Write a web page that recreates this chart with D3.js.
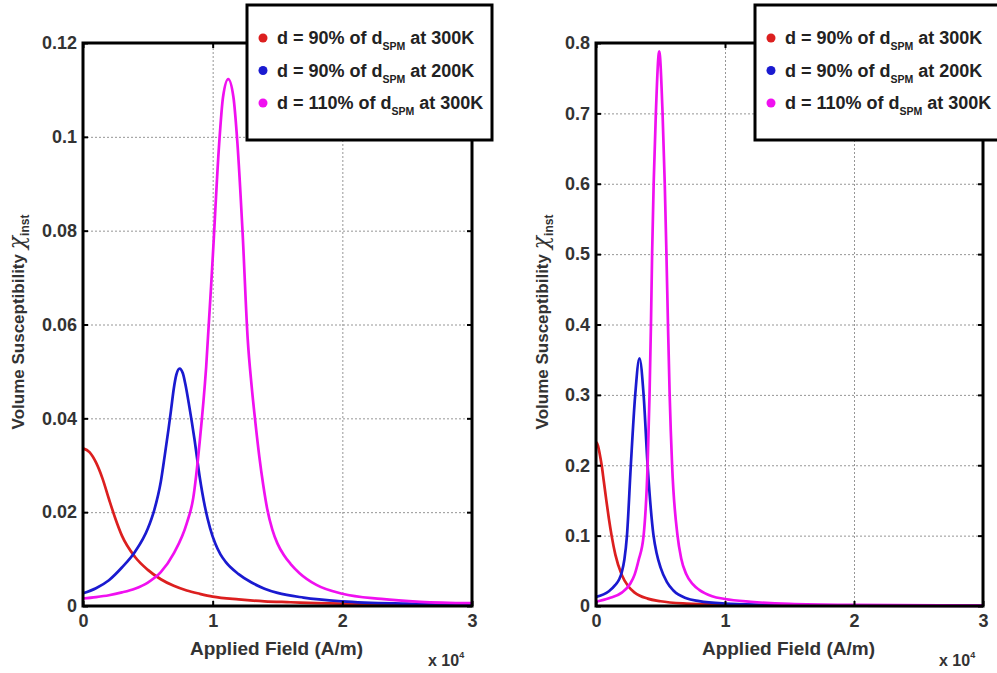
<!DOCTYPE html>
<html>
<head>
<meta charset="utf-8">
<script src="https://cdn.jsdelivr.net/npm/d3@7"></script>
<style>
  body { margin: 0; background: #fff; }
  svg { display: block; font-family: "Liberation Sans", Arial, sans-serif; }
  .tick text { font-weight: bold; fill: #333; font-family: "Liberation Sans", Arial, sans-serif; }
</style>
</head>
<body>
<svg id="chart" width="997" height="673"></svg>
<script>
// x en unités de 1e4 A/m
const xTicks = [0, 1, 2, 3];
const leftYTicks = [0, 0.02, 0.04, 0.06, 0.08, 0.1, 0.12];
const rightYTicks = [0, 0.1, 0.2, 0.3, 0.4, 0.5, 0.6, 0.7, 0.8];
const legendLabels = [
  { pre: "d = 90% of d", post: " at 300K" },
  { pre: "d = 90% of d", post: " at 200K" },
  { pre: "d = 110% of d", post: " at 300K" }
];
const seriesColors = ["#dc1f1f", "#1a1ad0", "#f010f0"];

// Panneau gauche
const leftRed = [[0,0.0336],[0.05,0.0328],[0.1,0.0306],[0.15,0.0272],[0.2,0.0228],[0.25,0.0186],[0.3,0.0150],[0.4,0.0105],[0.5,0.0077],[0.6,0.0057],[0.7,0.0043],[0.8,0.0033],[0.9,0.0026],[1.0,0.0020],[1.2,0.0014],[1.4,0.0010],[1.6,0.0008],[1.8,0.0006],[2.0,0.0005],[2.5,0.0003],[3.0,0.0002]];
const leftBlue = [[0,0.0027],[0.1,0.0038],[0.2,0.0055],[0.3,0.0082],[0.4,0.0115],[0.5,0.0165],[0.55,0.0205],[0.6,0.0265],[0.63,0.0320],[0.66,0.0378],[0.68,0.0420],[0.70,0.0463],[0.72,0.0493],[0.745,0.0506],[0.77,0.0496],[0.79,0.0472],[0.82,0.0425],[0.86,0.0355],[0.9,0.0275],[0.94,0.0212],[0.98,0.0166],[1.02,0.0133],[1.06,0.0110],[1.1,0.0094],[1.2,0.0068],[1.3,0.0050],[1.4,0.0037],[1.5,0.0028],[1.7,0.0018],[2.0,0.0010],[2.5,0.0005],[3.0,0.0003]];
const leftMagenta = [[0,0.0016],[0.1,0.0019],[0.2,0.0023],[0.3,0.0029],[0.4,0.0037],[0.5,0.0050],[0.6,0.0072],[0.7,0.0112],[0.8,0.0176],[0.85,0.0230],[0.9,0.0350],[0.95,0.0510],[1.0,0.0740],[1.05,0.0985],[1.08,0.1085],[1.12,0.1123],[1.16,0.1085],[1.19,0.0990],[1.23,0.0800],[1.27,0.0570],[1.30,0.0470],[1.33,0.0390],[1.36,0.0318],[1.39,0.0258],[1.42,0.0208],[1.46,0.0163],[1.50,0.0133],[1.55,0.0108],[1.6,0.0090],[1.67,0.0070],[1.8,0.0045],[2.0,0.0026],[2.3,0.0015],[2.6,0.0009],[3.0,0.0006]];

// Panneau droit
const rightRed = [[0,0.233],[0.015,0.228],[0.03,0.215],[0.044,0.200],[0.06,0.178],[0.08,0.150],[0.1,0.124],[0.121,0.100],[0.15,0.073],[0.2,0.044],[0.25,0.028],[0.3,0.019],[0.4,0.0105],[0.5,0.0068],[0.7,0.0035],[1.0,0.0018],[1.5,0.0008],[2.0,0.0005],[3.0,0.0002]];
const rightBlue = [[0,0.013],[0.1,0.021],[0.15,0.030],[0.18,0.038],[0.2,0.048],[0.22,0.066],[0.24,0.100],[0.27,0.200],[0.304,0.300],[0.337,0.352],[0.369,0.300],[0.40,0.200],[0.446,0.100],[0.47,0.075],[0.5,0.055],[0.55,0.034],[0.6,0.022],[0.7,0.011],[0.8,0.007],[1.0,0.0035],[1.3,0.0018],[1.6,0.0010],[2.0,0.0006],[3.0,0.0003]];
const rightMagenta = [[0,0.006],[0.1,0.011],[0.2,0.019],[0.266,0.032],[0.3,0.045],[0.33,0.065],[0.369,0.100],[0.40,0.200],[0.415,0.300],[0.426,0.400],[0.435,0.500],[0.447,0.600],[0.464,0.700],[0.49,0.788],[0.516,0.700],[0.533,0.600],[0.546,0.500],[0.558,0.400],[0.571,0.300],[0.59,0.200],[0.632,0.100],[0.66,0.068],[0.7,0.045],[0.75,0.031],[0.8,0.023],[0.9,0.014],[1.0,0.010],[1.2,0.006],[1.5,0.003],[2.0,0.0015],[3.0,0.0006]];

const svg = d3.select("#chart");

function drawPanel(opts) {
  const x = d3.scaleLinear().domain([0, 3]).range([opts.left, opts.right]);
  const y = d3.scaleLinear().domain([0, opts.yMax]).range([opts.bottom, opts.top]);
  const g = svg.append("g");

  // grille en pointillés
  g.append("g")
    .attr("transform", `translate(0,${opts.bottom})`)
    .call(d3.axisBottom(x).tickValues(xTicks).tickSize(-(opts.bottom - opts.top)).tickFormat(""))
    .call(s => s.select(".domain").remove())
    .selectAll("line").attr("stroke", "#8a8a8a").attr("stroke-dasharray", "2,2").attr("stroke-width", 0.9);
  g.append("g")
    .attr("transform", `translate(${opts.left},0)`)
    .call(d3.axisLeft(y).tickValues(opts.yTicks).tickSize(-(opts.right - opts.left)).tickFormat(""))
    .call(s => s.select(".domain").remove())
    .selectAll("line").attr("stroke", "#8a8a8a").attr("stroke-dasharray", "2,2").attr("stroke-width", 0.9);

  // courbes
  const line = d3.line().x(d => x(d[0])).y(d => y(d[1])).curve(d3.curveMonotoneX);
  opts.series.forEach((s, i) => {
    g.append("path")
      .attr("d", line(s))
      .attr("fill", "none")
      .attr("stroke", seriesColors[i])
      .attr("stroke-width", 2.7)
      .attr("stroke-linejoin", "round");
  });

  // axes, graduations vers l'intérieur
  const fmt = d => d === 0 ? "0" : String(+d.toFixed(3));
  g.append("g")
    .attr("transform", `translate(0,${opts.bottom})`)
    .call(d3.axisBottom(x).tickValues(xTicks).tickSizeInner(-5).tickSizeOuter(0).tickPadding(8).tickFormat(d3.format("d")))
    .call(s => s.select(".domain").remove())
    .call(s => s.selectAll("text").attr("font-size", 18))
    .selectAll("line").attr("stroke", "#000").attr("stroke-width", 2);
  g.append("g")
    .attr("transform", `translate(${opts.left},0)`)
    .call(d3.axisLeft(y).tickValues(opts.yTicks).tickSizeInner(-5).tickSizeOuter(0).tickPadding(6).tickFormat(fmt))
    .call(s => s.select(".domain").remove())
    .call(s => s.selectAll("text").attr("font-size", 18))
    .selectAll("line").attr("stroke", "#000").attr("stroke-width", 2);
  g.append("g")
    .attr("transform", `translate(${opts.right},0)`)
    .call(d3.axisRight(y).tickValues(opts.yTicks).tickSizeInner(-5).tickSizeOuter(0).tickFormat(""))
    .call(s => s.select(".domain").remove())
    .selectAll("line").attr("stroke", "#000").attr("stroke-width", 2);
  g.append("g")
    .attr("transform", `translate(0,${opts.top})`)
    .call(d3.axisTop(x).tickValues(xTicks).tickSizeInner(-5).tickSizeOuter(0).tickFormat(""))
    .call(s => s.select(".domain").remove())
    .selectAll("line").attr("stroke", "#000").attr("stroke-width", 2);

  g.append("rect")
    .attr("x", opts.left).attr("y", opts.top)
    .attr("width", opts.right - opts.left).attr("height", opts.bottom - opts.top)
    .attr("fill", "none").attr("stroke", "#000").attr("stroke-width", 3);

  // titres des axes
  g.append("text")
    .attr("x", (opts.left + opts.right) / 2 - 1).attr("y", 655)
    .attr("text-anchor", "middle").attr("font-size", 19).attr("font-weight", "bold").attr("fill", "#333")
    .text("Applied Field (A/m)");
  const mult = g.append("text")
    .attr("x", opts.right - 44).attr("y", 666)
    .attr("font-size", 16).attr("font-weight", "bold").attr("fill", "#333");
  mult.append("tspan").text("x 10");
  mult.append("tspan").attr("dy", -8).attr("font-size", 9).text("4");

  const yl = g.append("text")
    .attr("transform", `translate(${opts.yLabelX},${opts.yLabelY}) rotate(-90)`)
    .attr("text-anchor", "middle").attr("font-size", 17).attr("font-weight", "bold").attr("fill", "#333");
  yl.append("tspan").text("Volume Susceptibility ");
  yl.append("tspan").attr("font-family", "'DejaVu Serif', serif").attr("font-style", "italic")
    .attr("font-weight", "normal").attr("font-size", 22).text("χ");
  yl.append("tspan").attr("dy", 5).attr("font-size", 12).text("inst");

  // légende
  const lg = g.append("g");
  lg.append("rect")
    .attr("x", opts.legendX).attr("y", 5)
    .attr("width", opts.legendW).attr("height", 135)
    .attr("fill", "#fff").attr("stroke", "#000").attr("stroke-width", 3);
  legendLabels.forEach((l, i) => {
    const cy = 38 + i * 32.5;
    lg.append("circle")
      .attr("cx", opts.legendX + 16).attr("cy", cy).attr("r", 4.5)
      .attr("fill", seriesColors[i]);
    const t = lg.append("text")
      .attr("x", opts.legendX + 30).attr("y", cy + 6)
      .attr("font-size", 18).attr("font-weight", "bold").attr("fill", "#222");
    t.append("tspan").text(l.pre);
    t.append("tspan").attr("dy", 6).attr("font-size", 10.5).text("SPM");
    t.append("tspan").attr("dy", -6).text(l.post);
  });
}

drawPanel({
  left: 83, right: 472, top: 43, bottom: 606,
  yMax: 0.12, yTicks: leftYTicks,
  series: [leftRed, leftBlue, leftMagenta],
  yLabelX: 24, yLabelY: 322,
  legendX: 247, legendW: 245
});

drawPanel({
  left: 596, right: 983, top: 43, bottom: 606,
  yMax: 0.8, yTicks: rightYTicks,
  series: [rightRed, rightBlue, rightMagenta],
  yLabelX: 548, yLabelY: 322,
  legendX: 755, legendW: 250
});
</script>
</body>
</html>
